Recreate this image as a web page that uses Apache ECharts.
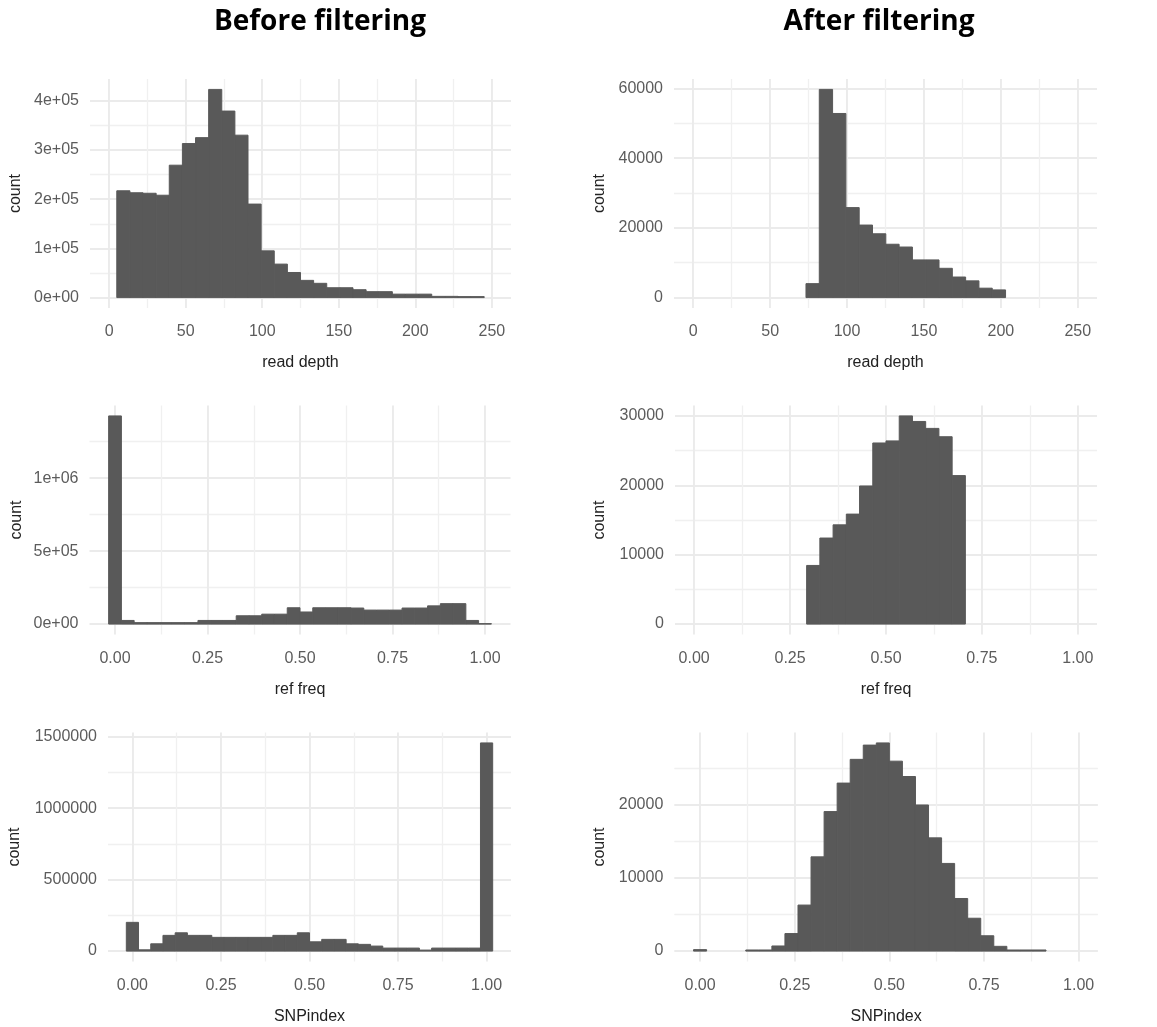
<!DOCTYPE html>
<html><head><meta charset="utf-8">
<script src="https://cdn.jsdelivr.net/npm/echarts@6/dist/echarts.min.js"></script>
<style>html,body{margin:0;padding:0;background:#fff}#c{width:1157px;height:1027px}</style>
</head><body><div id="c"></div><script>
// ---------- data ----------
// Read depth, before filtering: 28 bins from 5 to 245
const readDepthBeforeStart = 5;
const readDepthBeforeWidth = 240 / 28;
const readDepthBeforeCounts = [217000, 213000, 212000, 208000, 269000, 313000, 325000, 423000, 379000, 330000,
  190000, 95000, 68000, 51000, 35000, 29000, 20000, 20000, 16000, 12000,
  12000, 7000, 7000, 7000, 2500, 2500, 2000, 2000];
// Read depth, after filtering: 15 bins from 73.3
const readDepthAfterStart = 73.3;
const readDepthAfterWidth = 8.65;
const readDepthAfterCounts = [4000, 59700, 52800, 25800, 20800, 18300, 15300, 14500, 10800, 10800,
  8400, 5900, 4800, 2700, 2200];
// Frequency-type histograms: 30 bins centred on k/29 (k = 0..29)
const freqBinCount = 29;
const refFreqBeforeCounts = [1427000, 25000, 10000, 10000, 10000, 10000, 10000, 25000, 25000, 25000,
  57000, 57000, 68000, 68000, 112000, 83000, 112000, 112000, 112000, 110000,
  96000, 96000, 96000, 110000, 110000, 125000, 140000, 140000, 25000, 3000];
const refFreqAfterFirstBin = 9;
const refFreqAfterCounts = [8450, 12400, 14300, 15850, 19900, 26100, 26400, 30000, 29200, 28200, 27000, 21400];
const snpBeforeCounts = [201000, 9000, 51000, 110000, 128000, 110000, 110000, 96000, 96000, 96000,
  96000, 96000, 110000, 110000, 128000, 65000, 82000, 82000, 51000, 47000,
  35000, 21000, 21000, 21000, 7000, 21000, 21000, 21000, 21000, 1456000];
const snpAfterCounts = [200, 0, 0, 0, 150, 150, 700, 2400, 6300, 12900,
  19100, 23000, 26250, 28200, 28500, 26000, 23900, 20000, 15500, 12000,
  7200, 4500, 2100, 650, 150, 150, 150, 0, 0, 0];

// ---------- axis breaks & limits ----------
const depthTicks = [0, 50, 100, 150, 200, 250];
const depthMinor = [25, 75, 125, 175, 225];
const freqTicks = [0, 0.25, 0.5, 0.75, 1];
const freqMinor = [0.125, 0.375, 0.625, 0.875];
const depthLimits = [0, 250];
const freqLimitsFull = [-1 / 58, 1 + 1 / 58];
const refFreqAfterLimits = [0, 1];
const snpAfterLimits = [-1 / 58, 1];

const rdBeforeYTicks = [0, 100000, 200000, 300000, 400000];
const rdBeforeYMinor = [50000, 150000, 250000, 350000];
const rdAfterYTicks = [0, 20000, 40000, 60000];
const rdAfterYMinor = [10000, 30000, 50000];
const rfBeforeYTicks = [0, 500000, 1000000];
const rfBeforeYMinor = [250000, 750000, 1250000];
const rfAfterYTicks = [0, 10000, 20000, 30000];
const rfAfterYMinor = [5000, 15000, 25000];
const snpBeforeYTicks = [0, 500000, 1000000, 1500000];
const snpBeforeYMinor = [250000, 750000, 1250000];
const snpAfterYTicks = [0, 10000, 20000];
const snpAfterYMinor = [5000, 15000, 25000];

// ---------- helpers ----------
function binsFromStart(start, width, counts) {
  return counts.map((c, i) => [start + i * width, start + (i + 1) * width, c]);
}
function binsCentred(firstK, counts) {
  return counts.map((c, i) => [(firstK + i - 0.5) / freqBinCount, (firstK + i + 0.5) / freqBinCount, c]);
}
function expand(lim) { const d = (lim[1] - lim[0]) * 0.05; return [lim[0] - d, lim[1] + d]; }
function sci(v) {
  if (v === 0) return '0e+00';
  const e = Math.floor(Math.log10(v) + 1e-9);
  const m = Math.round(v / Math.pow(10, e));
  return m + 'e+' + String(e).padStart(2, '0');
}
function plain(v) { return String(Math.round(v)); }
function fmtFreq(v) { return v.toFixed(2); }
function fmtDepth(v) { return String(v); }

const FONT = 'Liberation Sans, Arial, sans-serif';
const LABEL_COLOR = '#5c5c5c';
const TITLE_COLOR = '#222222';
const MAJOR = { color: '#ebebeb', width: 1.9 };
const MINOR = { color: '#f0f0f0', width: 1.3 };
const BAR = '#595959';

const panels = [
  { grid: { left: 90, top: 79, width: 421, height: 229 }, xLim: expand(depthLimits), xTicks: depthTicks, xMinor: depthMinor, xFmt: fmtDepth, xName: 'read depth',
    yTicks: rdBeforeYTicks, yMinor: rdBeforeYMinor, yFmt: sci, nameGapY: 66, data: binsFromStart(readDepthBeforeStart, readDepthBeforeWidth, readDepthBeforeCounts) },
  { grid: { left: 674, top: 79, width: 423, height: 229 }, xLim: expand(depthLimits), xTicks: depthTicks, xMinor: depthMinor, xFmt: fmtDepth, xName: 'read depth',
    yTicks: rdAfterYTicks, yMinor: rdAfterYMinor, yFmt: plain, nameGapY: 66, data: binsFromStart(readDepthAfterStart, readDepthAfterWidth, readDepthAfterCounts) },
  { grid: { left: 89.5, top: 405.5, width: 421, height: 229 }, xLim: expand(freqLimitsFull), xTicks: freqTicks, xMinor: freqMinor, xFmt: fmtFreq, xName: 'ref freq',
    yTicks: rfBeforeYTicks, yMinor: rfBeforeYMinor, yFmt: sci, nameGapY: 65, data: binsCentred(0, refFreqBeforeCounts) },
  { grid: { left: 675, top: 405.5, width: 422, height: 229 }, xLim: expand(refFreqAfterLimits), xTicks: freqTicks, xMinor: freqMinor, xFmt: fmtFreq, xName: 'ref freq',
    yTicks: rfAfterYTicks, yMinor: rfAfterYMinor, yFmt: plain, nameGapY: 67, data: binsCentred(refFreqAfterFirstBin, refFreqAfterCounts) },
  { grid: { left: 108, top: 732.5, width: 403, height: 229 }, xLim: expand(freqLimitsFull), xTicks: freqTicks, xMinor: freqMinor, xFmt: fmtFreq, xName: 'SNPindex',
    yTicks: snpBeforeYTicks, yMinor: snpBeforeYMinor, yFmt: plain, nameGapY: 85, data: binsCentred(0, snpBeforeCounts) },
  { grid: { left: 674.3, top: 732.5, width: 423.6, height: 229 }, xLim: expand(snpAfterLimits), xTicks: freqTicks, xMinor: freqMinor, xFmt: fmtFreq, xName: 'SNPindex',
    yTicks: snpAfterYTicks, yMinor: snpAfterYMinor, yFmt: plain, nameGapY: 67, data: binsCentred(0, snpAfterCounts) }
];

const grids = [], xAxes = [], yAxes = [], series = [];
panels.forEach((p, i) => {
  grids.push(Object.assign({ containLabel: false, outerBoundsMode: 'none' }, p.grid));
  const ymax = Math.max(...p.data.map(d => d[2]));
  const yMin = -0.05 * ymax, yMax = 1.05 * ymax;
  xAxes.push({
    type: 'value', gridIndex: i, position: 'bottom', min: p.xLim[0], max: p.xLim[1],
    axisLine: { show: false }, axisTick: { show: false, customValues: p.xTicks },
    axisLabel: { customValues: p.xTicks, formatter: p.xFmt, color: LABEL_COLOR, fontSize: 16, fontFamily: FONT, margin: 16, hideOverlap: false, showMinLabel: true, showMaxLabel: true },
    splitLine: { show: true, lineStyle: MAJOR },
    name: p.xName, nameLocation: 'middle', nameGap: 47,
    nameTextStyle: { color: TITLE_COLOR, fontSize: 16, fontFamily: FONT }
  });
  xAxes.push({
    type: 'value', gridIndex: i, position: 'top', min: p.xLim[0], max: p.xLim[1],
    axisLine: { show: false }, axisTick: { show: false, customValues: p.xMinor },
    axisLabel: { show: false, customValues: p.xMinor },
    splitLine: { show: true, lineStyle: MINOR }
  });
  yAxes.push({
    type: 'value', gridIndex: i, position: 'left', min: yMin, max: yMax,
    axisLine: { show: false }, axisTick: { show: false, customValues: p.yTicks },
    axisLabel: { customValues: p.yTicks, formatter: p.yFmt, color: LABEL_COLOR, fontSize: 16, fontFamily: FONT, margin: 11, hideOverlap: false },
    splitLine: { show: true, lineStyle: MAJOR },
    name: 'count', nameLocation: 'middle', nameGap: p.nameGapY, nameRotate: 90,
    nameTextStyle: { color: TITLE_COLOR, fontSize: 16, fontFamily: FONT }
  });
  yAxes.push({
    type: 'value', gridIndex: i, position: 'right', min: yMin, max: yMax,
    axisLine: { show: false }, axisTick: { show: false, customValues: p.yMinor },
    axisLabel: { show: false, customValues: p.yMinor },
    splitLine: { show: true, lineStyle: MINOR }
  });
  series.push({
    type: 'custom', xAxisIndex: 2 * i, yAxisIndex: 2 * i, data: p.data,
    encode: { x: [0, 1], y: 2 }, silent: true, animation: false,
    renderItem: function (params, api) {
      const y = api.value(2);
      if (!y) return null;
      const a = api.coord([api.value(0), y]);
      const b = api.coord([api.value(1), 0]);
      return { type: 'rect', shape: { x: a[0], y: a[1], width: b[0] - a[0], height: b[1] - a[1] },
        style: { fill: BAR, stroke: BAR, lineWidth: 1 } };
    }
  });
});

const chart = echarts.init(document.getElementById('c'), null, { renderer: 'canvas' });
chart.setOption({
  backgroundColor: '#ffffff',
  animation: false,
  grid: grids, xAxis: xAxes, yAxis: yAxes, series: series,
  graphic: [
    { type: 'text', x: 320, y: 22, style: { text: 'Before filtering', font: 'bold 28px "Open Sans", Lato, sans-serif', align: 'center', verticalAlign: 'middle', fill: '#000' } },
    { type: 'text', x: 879, y: 22, style: { text: 'After filtering', font: 'bold 28px "Open Sans", Lato, sans-serif', align: 'center', verticalAlign: 'middle', fill: '#000' } }
  ]
});
</script></body></html>
